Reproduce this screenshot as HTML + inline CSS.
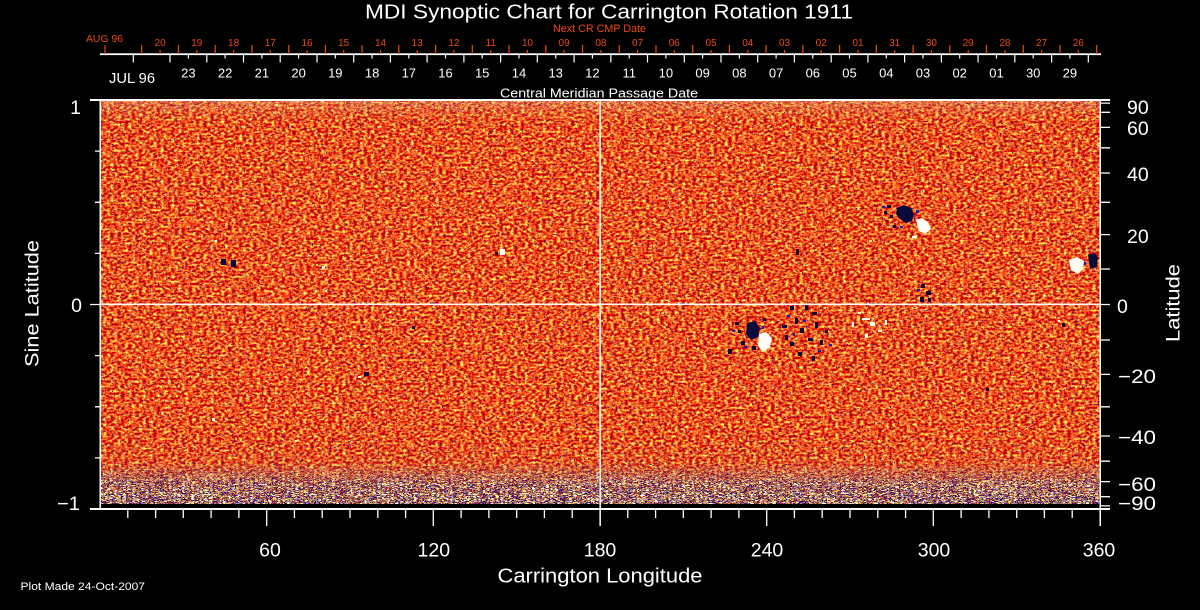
<!DOCTYPE html>
<html>
<head>
<meta charset="utf-8">
<style>
html,body{margin:0;padding:0;background:#000;width:1200px;height:610px;overflow:hidden}
svg{display:block}
text{font-family:"Liberation Sans",sans-serif;fill:#fff}
.r{fill:#f04810}
</style>
</head>
<body>
<svg xmlns="http://www.w3.org/2000/svg" width="1200" height="610" viewBox="0 0 1200 610">
<defs>
  <filter id="fa" x="0" y="0" width="1" height="1" color-interpolation-filters="sRGB">
    <feTurbulence type="fractalNoise" baseFrequency="0.28 0.42" numOctaves="2" seed="4"/>
    <feColorMatrix type="matrix" values="0.9 0 0 0 0.52  2.4 0 0 0 -0.86  0.8 0 0 0 -0.28  0 0 0 0 1"/>
  </filter>
  <filter id="fb" x="0" y="0" width="1" height="1" color-interpolation-filters="sRGB">
    <feTurbulence type="fractalNoise" baseFrequency="0.5 0.7" numOctaves="1" seed="11"/>
    <feColorMatrix type="matrix" values="0 0 0 0 0.05  0 0 0 0 0.05  0 0 0 0 0.65  14 0 0 0 -9.1"/>
  </filter>
  <filter id="fc" x="0" y="0" width="1" height="1" color-interpolation-filters="sRGB">
    <feTurbulence type="fractalNoise" baseFrequency="0.22 0.9" numOctaves="2" seed="9"/>
    <feColorMatrix type="matrix" values="3 0 0 0 -1  3 0 0 0 -1  3 0 0 0 -1  0 0 0 0 1"/>
    <feComponentTransfer>
      <feFuncR type="discrete" tableValues="1 1 0 0.95 0 1 0 1"/>
      <feFuncG type="discrete" tableValues="1 0.85 0 0.2 0 0.55 0 1"/>
      <feFuncB type="discrete" tableValues="1 0.15 0.8 0.05 0.55 0.15 0 0.6"/>
    </feComponentTransfer>
  </filter>
  <filter id="fd" x="0" y="0" width="1" height="1" color-interpolation-filters="sRGB">
    <feTurbulence type="fractalNoise" baseFrequency="0.2 0.8" numOctaves="2" seed="21"/>
    <feColorMatrix type="matrix" values="3 0 0 0 -1  3 0 0 0 -1  3 0 0 0 -1  0 0 0 0 1"/>
    <feComponentTransfer>
      <feFuncR type="discrete" tableValues="1 1 0.95 1 0.1 1 1 1"/>
      <feFuncG type="discrete" tableValues="1 0.9 0.2 0.55 0.1 0.8 0.3 1"/>
      <feFuncB type="discrete" tableValues="0.9 0.2 0.05 0.15 0.7 0.3 0.05 1"/>
    </feComponentTransfer>
  </filter>
  <linearGradient id="gb" x1="0" y1="0" x2="0" y2="1">
    <stop offset="0" stop-color="#fff" stop-opacity="0"/>
    <stop offset="0.4" stop-color="#fff" stop-opacity="0.08"/>
    <stop offset="0.7" stop-color="#fff" stop-opacity="0.85"/>
    <stop offset="1" stop-color="#fff" stop-opacity="1"/>
  </linearGradient>
  <linearGradient id="gt" x1="0" y1="0" x2="0" y2="1">
    <stop offset="0" stop-color="#fff" stop-opacity="0.55"/>
    <stop offset="0.5" stop-color="#fff" stop-opacity="0.2"/>
    <stop offset="1" stop-color="#fff" stop-opacity="0"/>
  </linearGradient>
  <linearGradient id="gs" x1="0" y1="0" x2="0" y2="1">
    <stop offset="0" stop-color="#fff" stop-opacity="0.8"/>
    <stop offset="0.75" stop-color="#fff" stop-opacity="0.85"/>
    <stop offset="1" stop-color="#fff" stop-opacity="1"/>
  </linearGradient>
  <mask id="mb" maskUnits="userSpaceOnUse" x="100" y="0" width="1001" height="610">
    <rect x="100" y="434" width="1001" height="71" fill="url(#gb)"/>
  </mask>
  <mask id="mt" maskUnits="userSpaceOnUse" x="100" y="0" width="1001" height="610">
    <rect x="100" y="100" width="1001" height="22" fill="url(#gt)"/>
  </mask>
  <mask id="ms" maskUnits="userSpaceOnUse" x="100" y="0" width="1001" height="610">
    <rect x="100" y="100" width="1001" height="405" fill="url(#gs)"/>
  </mask>
</defs>

<rect width="1200" height="610" fill="#000"/>

<!-- data map -->
<rect x="101" y="100" width="999" height="404" fill="#e8481c" filter="url(#fa)"/>
<g mask="url(#ms)"><rect x="101" y="100" width="999" height="404" filter="url(#fb)"/></g>
<g mask="url(#mt)"><rect x="101" y="100" width="999" height="22" filter="url(#fd)"/></g>
<g mask="url(#mb)"><rect x="101" y="434" width="999" height="70" filter="url(#fc)"/></g>

<!-- active regions -->
<g fill="#0a0a3a">
  <path d="M897,208 L904,205 L911,208 L914,214 L912,221 L906,223 L900,219 L896,214Z"/>
  <rect x="887" y="205" width="4" height="3"/><rect x="884" y="211" width="3" height="3"/><rect x="893" y="225" width="3" height="3"/><rect x="890" y="215" width="3" height="3"/>
  <rect x="921" y="284" width="4" height="4"/><rect x="926" y="291" width="5" height="4"/><rect x="920" y="297" width="4" height="5"/><rect x="928" y="298" width="3" height="4"/>
  <path d="M747,323 L755,321 L760,328 L758,337 L751,340 L746,334Z"/>
  <rect x="735" y="322" width="4" height="3"/><rect x="738" y="330" width="3" height="3"/><rect x="741" y="341" width="4" height="4"/><rect x="752" y="346" width="4" height="4"/><rect x="728" y="349" width="4" height="5"/><rect x="763" y="318" width="3" height="3"/>
  <rect x="790" y="306" width="4" height="4"/><rect x="805" y="305" width="3" height="5"/><rect x="812" y="312" width="5" height="3"/><rect x="795" y="318" width="3" height="6"/><rect x="782" y="325" width="5" height="3"/><rect x="800" y="328" width="4" height="5"/><rect x="815" y="322" width="3" height="6"/><rect x="808" y="338" width="5" height="3"/><rect x="790" y="342" width="4" height="4"/><rect x="820" y="340" width="3" height="5"/><rect x="798" y="352" width="4" height="4"/><rect x="812" y="356" width="3" height="5"/><rect x="785" y="335" width="3" height="5"/><rect x="825" y="330" width="3" height="3"/>
  <path d="M1088,255 L1095,253 L1098,258 L1097,267 L1090,269Z"/>
  <rect x="221" y="259" width="5" height="6"/><rect x="231" y="260" width="5" height="7"/>
  <rect x="495" y="252" width="3" height="3"/><rect x="364" y="372" width="5" height="4"/><rect x="412" y="326" width="3" height="3"/>
  <rect x="1062" y="323" width="3" height="4"/><rect x="986" y="388" width="3" height="3"/><rect x="796" y="249" width="3" height="6"/>
</g>
<g fill="#1a1ab4">
  <rect x="882" y="206" width="3" height="2"/><rect x="916" y="210" width="3" height="3"/><rect x="900" y="226" width="3" height="2"/>
  <rect x="732" y="330" width="3" height="2"/><rect x="744" y="346" width="3" height="2"/><rect x="762" y="326" width="2" height="3"/>
  <rect x="787" y="315" width="3" height="2"/><rect x="803" y="320" width="3" height="2"/><rect x="818" y="350" width="3" height="2"/><rect x="793" y="333" width="2" height="3"/><rect x="829" y="344" width="3" height="2"/>
  <rect x="917" y="289" width="3" height="2"/><rect x="1083" y="262" width="3" height="3"/>
</g>
<g fill="#fffff4">
  <path d="M916,220 L922,218 L928,222 L931,229 L925,234 L919,231Z"/>
  <rect x="912" y="236" width="5" height="2"/>
  <path d="M759,334 L766,332 L772,338 L770,347 L763,352 L758,346Z"/>
  <rect x="862" y="318" width="8" height="2"/><rect x="870" y="322" width="5" height="4"/><rect x="852" y="322" width="2" height="5"/><rect x="878" y="330" width="4" height="2"/><rect x="885" y="320" width="2" height="5"/><rect x="865" y="334" width="3" height="4"/><rect x="858" y="312" width="3" height="2"/>
  <path d="M1069,260 L1077,257 L1084,261 L1083,269 L1078,274 L1071,270Z"/>
  <rect x="500" y="249" width="5" height="6"/><rect x="322" y="266" width="3" height="3"/><rect x="325" y="290" width="2" height="2"/><rect x="215" y="240" width="2" height="2"/><rect x="358" y="376" width="3" height="2"/><rect x="212" y="418" width="3" height="3"/><rect x="295" y="440" width="2" height="2"/><rect x="1058" y="320" width="2" height="2"/>
</g>

<!-- plot frame and grid lines -->
<g fill="#fff">
  <rect x="90" y="99" width="1020" height="2"/>
  <rect x="90" y="508" width="1020" height="2"/>
  <rect x="99.5" y="99" width="1.5" height="411"/>
  <rect x="1099.5" y="99" width="1.5" height="427"/>
  <rect x="100" y="303.5" width="1000" height="1.6"/>
  <rect x="599.4" y="99" width="1.5" height="427"/>
</g>
<g stroke="#fff" stroke-width="1.3" fill="none">
  <path d="M90,100H100M90,304.5H100M90,509H100M95,151.1H100M95,202.3H100M95,253.4H100M95,355.6H100M95,406.8H100M95,457.9H100"/>
  <path d="M1100,100H1110M1100,103.1H1110M1100,112.3H1110M1100,127.4H1110M1100,147.8H1110M1100,173H1110M1100,202.3H1110M1100,234.6H1110M1100,269H1110M1100,304.5H1110M1100,340H1110M1100,374.4H1110M1100,406.8H1110M1100,436H1110M1100,461.2H1110M1100,481.6H1110M1100,496.7H1110M1100,505.9H1110M1100,509H1110"/>
  <path d="M127.8,509V518M155.6,509V518M183.3,509V518M211.1,509V518M238.9,509V518M266.7,509V526M294.4,509V518M322.2,509V518M350,509V518M377.8,509V518M405.6,509V518M433.3,509V526M461.1,509V518M488.9,509V518M516.7,509V518M544.4,509V518M572.2,509V518M627.8,509V518M655.6,509V518M683.3,509V518M711.1,509V518M738.9,509V518M766.7,509V526M794.4,509V518M822.2,509V518M850,509V518M877.8,509V518M905.6,509V518M933.3,509V526M961.1,509V518M988.9,509V518M1016.7,509V518M1044.4,509V518M1072.2,509V518"/>
</g>

<!-- top date axis -->
<rect x="100" y="53.3" width="1001" height="1.8" fill="#fff"/>
<g stroke="#f04810" stroke-width="1.2" fill="none">
  <path d="M105,45v9M141.7,45v9M178.5,45v9M215.2,45v9M251.9,45v9M288.7,45v9M325.4,45v9M362.1,45v9M398.8,45v9M435.6,45v9M472.3,45v9M509,45v9M545.8,45v9M582.5,45v9M619.2,45v9M656,45v9M692.7,45v9M729.4,45v9M766.1,45v9M802.9,45v9M839.6,45v9M876.3,45v9M913.1,45v9M949.8,45v9M986.5,45v9M1023.3,45v9M1060,45v9M1096.7,45v9"/>
  <path d="M160.1,50v4M196.8,50v4M233.6,50v4M270.3,50v4M307,50v4M343.7,50v4M380.5,50v4M417.2,50v4M453.9,50v4M490.7,50v4M527.4,50v4M564.1,50v4M600.9,50v4M637.6,50v4M674.3,50v4M711,50v4M747.8,50v4M784.5,50v4M821.2,50v4M858,50v4M894.7,50v4M931.4,50v4M968.2,50v4M1004.9,50v4M1041.6,50v4M1078.3,50v4"/>
</g>
<g stroke="#fff" stroke-width="1.2" fill="none">
  <path d="M133.3,55v7.5M170,55v7.5M206.8,55v7.5M243.5,55v7.5M280.2,55v7.5M317,55v7.5M353.7,55v7.5M390.4,55v7.5M427.1,55v7.5M463.9,55v7.5M500.6,55v7.5M537.3,55v7.5M574.1,55v7.5M610.8,55v7.5M647.5,55v7.5M684.3,55v7.5M721,55v7.5M757.7,55v7.5M794.4,55v7.5M831.2,55v7.5M867.9,55v7.5M904.6,55v7.5M941.4,55v7.5M978.1,55v7.5M1014.8,55v7.5M1051.6,55v7.5M1088.3,55v7.5"/>
  <path d="M188.4,55v3.5M225.1,55v3.5M261.9,55v3.5M298.6,55v3.5M335.3,55v3.5M372.1,55v3.5M408.8,55v3.5M445.5,55v3.5M482.2,55v3.5M519,55v3.5M555.7,55v3.5M592.4,55v3.5M629.2,55v3.5M665.9,55v3.5M702.6,55v3.5M739.4,55v3.5M776.1,55v3.5M812.8,55v3.5M849.5,55v3.5M886.3,55v3.5M923,55v3.5M959.7,55v3.5M996.5,55v3.5M1033.2,55v3.5M1069.9,55v3.5"/>
</g>

<!-- title and top labels -->
<text x="365" y="18.5" font-size="20" textLength="488" lengthAdjust="spacingAndGlyphs">MDI Synoptic Chart for Carrington Rotation 1911</text>
<text class="r" x="553" y="32" font-size="11" textLength="93" lengthAdjust="spacingAndGlyphs">Next CR CMP Date</text>
<text class="r" x="86" y="42" font-size="10" textLength="37" lengthAdjust="spacingAndGlyphs">AUG 96</text>
<g class="r" font-size="10" text-anchor="middle">
  <text class="r" x="160.1" y="46">20</text><text class="r" x="196.8" y="46">19</text><text class="r" x="233.6" y="46">18</text><text class="r" x="270.3" y="46">17</text><text class="r" x="307" y="46">16</text><text class="r" x="343.7" y="46">15</text><text class="r" x="380.5" y="46">14</text><text class="r" x="417.2" y="46">13</text><text class="r" x="453.9" y="46">12</text><text class="r" x="490.7" y="46">11</text><text class="r" x="527.4" y="46">10</text><text class="r" x="564.1" y="46">09</text><text class="r" x="600.9" y="46">08</text><text class="r" x="637.6" y="46">07</text><text class="r" x="674.3" y="46">06</text><text class="r" x="711" y="46">05</text><text class="r" x="747.8" y="46">04</text><text class="r" x="784.5" y="46">03</text><text class="r" x="821.2" y="46">02</text><text class="r" x="858" y="46">01</text><text class="r" x="894.7" y="46">31</text><text class="r" x="931.4" y="46">30</text><text class="r" x="968.2" y="46">29</text><text class="r" x="1004.9" y="46">28</text><text class="r" x="1041.6" y="46">27</text><text class="r" x="1078.3" y="46">26</text>
</g>
<text x="109" y="83" font-size="14.5" textLength="46" lengthAdjust="spacingAndGlyphs">JUL 96</text>
<g font-size="13" text-anchor="middle">
  <text x="188.4" y="77.5">23</text><text x="225.1" y="77.5">22</text><text x="261.9" y="77.5">21</text><text x="298.6" y="77.5">20</text><text x="335.3" y="77.5">19</text><text x="372.1" y="77.5">18</text><text x="408.8" y="77.5">17</text><text x="445.5" y="77.5">16</text><text x="482.2" y="77.5">15</text><text x="519" y="77.5">14</text><text x="555.7" y="77.5">13</text><text x="592.4" y="77.5">12</text><text x="629.2" y="77.5">11</text><text x="665.9" y="77.5">10</text><text x="702.6" y="77.5">09</text><text x="739.4" y="77.5">08</text><text x="776.1" y="77.5">07</text><text x="812.8" y="77.5">06</text><text x="849.5" y="77.5">05</text><text x="886.3" y="77.5">04</text><text x="923" y="77.5">03</text><text x="959.7" y="77.5">02</text><text x="996.5" y="77.5">01</text><text x="1033.2" y="77.5">30</text><text x="1069.9" y="77.5">29</text>
</g>
<text x="500" y="97.5" font-size="12.5" textLength="198" lengthAdjust="spacingAndGlyphs">Central Meridian Passage Date</text>

<!-- left axis labels -->
<text x="81" y="114" font-size="19.5" text-anchor="end">1</text>
<text x="82" y="312" font-size="19.5" text-anchor="end">0</text>
<text x="57" y="510" font-size="19.5" textLength="23" lengthAdjust="spacingAndGlyphs">−1</text>
<text transform="translate(38.5,303.5) rotate(-90)" font-size="19.5" text-anchor="middle" textLength="127" lengthAdjust="spacingAndGlyphs">Sine Latitude</text>

<!-- right axis labels -->
<g font-size="19.5">
  <text x="1127" y="114">90</text>
  <text x="1127" y="135">60</text>
  <text x="1127" y="181">40</text>
  <text x="1127" y="243">20</text>
  <text x="1117" y="313">0</text>
  <text x="1118" y="383" textLength="38" lengthAdjust="spacingAndGlyphs">−20</text>
  <text x="1118" y="444" textLength="38" lengthAdjust="spacingAndGlyphs">−40</text>
  <text x="1118" y="491" textLength="38" lengthAdjust="spacingAndGlyphs">−60</text>
  <text x="1118" y="510" textLength="38" lengthAdjust="spacingAndGlyphs">−90</text>
</g>
<text transform="translate(1179.5,303) rotate(-90)" font-size="19.5" text-anchor="middle" textLength="78" lengthAdjust="spacingAndGlyphs">Latitude</text>

<!-- bottom axis labels -->
<g font-size="19.5" text-anchor="middle">
  <text x="270" y="556.5">60</text>
  <text x="433.8" y="556.5">120</text>
  <text x="600" y="556.5">180</text>
  <text x="767" y="556.5">240</text>
  <text x="934" y="556.5">300</text>
  <text x="1099" y="556.5">360</text>
</g>
<text x="497.5" y="582.5" font-size="20" textLength="205" lengthAdjust="spacingAndGlyphs">Carrington Longitude</text>
<text x="20.5" y="590" font-size="11" textLength="124.5" lengthAdjust="spacingAndGlyphs">Plot Made 24-Oct-2007</text>
</svg>
</body>
</html>
